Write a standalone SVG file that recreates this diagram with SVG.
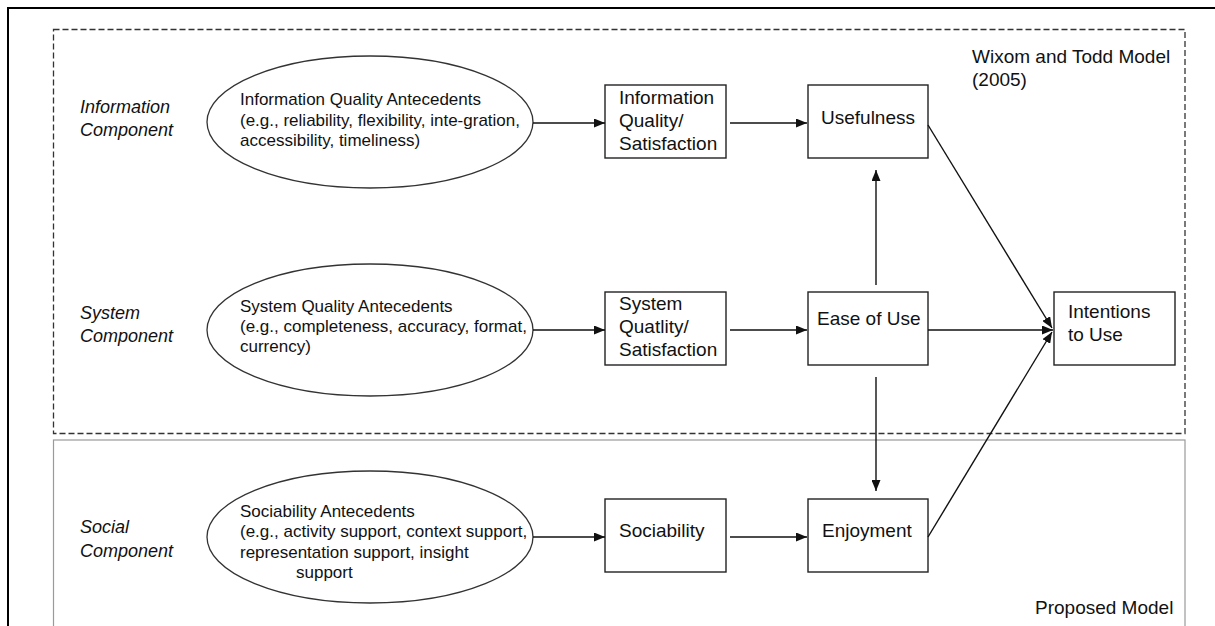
<svg xmlns="http://www.w3.org/2000/svg" width="1215" height="626" viewBox="0 0 1215 626">
<defs>
<style>
.t{font-family:"Liberation Sans",Arial,sans-serif;fill:#111;}
.lab{font-size:18px;font-style:italic;}
.box{font-size:19px;}
.ell{font-size:17px;}
.nb{fill:#fff;stroke:#222;stroke-width:1.4;}
.ne{fill:#fff;stroke:#333;stroke-width:1.3;}
.c{stroke:#111;stroke-width:1.4;fill:none;marker-end:url(#ah);}
</style>
<marker id="ah" markerUnits="userSpaceOnUse" markerWidth="11" markerHeight="9" refX="11" refY="4.5" orient="auto">
<path d="M0,0 L11,4.5 L0,9 z" fill="#111"/>
</marker>
</defs>
<rect width="1215" height="626" fill="#fff"/>
<g id="frame">
<path d="M8,626 L8,8 L1215,8" fill="none" stroke="#000" stroke-width="2"/>
</g>
<g id="wixom-region">
<rect x="53.5" y="29.5" width="1131.5" height="404" fill="none" stroke="#333" stroke-width="1.3" stroke-dasharray="6,3"/>
<text class="t box" x="972" y="63">Wixom and Todd Model</text>
<text class="t box" x="972" y="86">(2005)</text>
</g>
<g id="proposed-region">
<rect x="53.5" y="440" width="1131.5" height="200" fill="none" stroke="#9a9a9a" stroke-width="1.2"/>
<text class="t box" x="1035" y="614">Proposed Model</text>
</g>
<g id="labels">
<text class="t lab" x="80" y="113">Information</text>
<text class="t lab" x="80" y="136">Component</text>
<text class="t lab" x="80" y="319">System</text>
<text class="t lab" x="80" y="342">Component</text>
<text class="t lab" x="80" y="533">Social</text>
<text class="t lab" x="80" y="557">Component</text>
</g>
<g id="info-antecedents">
<ellipse class="ne" cx="370" cy="122" rx="163" ry="66"/>
<text class="t ell" x="240" y="105">Information Quality Antecedents</text>
<text class="t ell" x="240" y="125.5">(e.g., reliability, flexibility, inte-gration,</text>
<text class="t ell" x="240" y="146">accessibility, timeliness)</text>
</g>
<g id="system-antecedents">
<ellipse class="ne" cx="370" cy="330" rx="163" ry="66"/>
<text class="t ell" x="240" y="312">System Quality Antecedents</text>
<text class="t ell" x="240" y="332">(e.g., completeness, accuracy, format,</text>
<text class="t ell" x="240" y="352">currency)</text>
</g>
<g id="social-antecedents">
<ellipse class="ne" cx="370" cy="537" rx="163" ry="66"/>
<text class="t ell" x="240" y="517">Sociability Antecedents</text>
<text class="t ell" x="240" y="537">(e.g., activity support, context support,</text>
<text class="t ell" x="240" y="557.5">representation support, insight</text>
<text class="t ell" x="296" y="578">support</text>
</g>
<g id="info-quality">
<rect class="nb" x="605" y="85" width="121" height="73"/>
<text class="t box" x="619" y="104">Information</text>
<text class="t box" x="619" y="127">Quality/</text>
<text class="t box" x="619" y="150">Satisfaction</text>
</g>
<g id="usefulness">
<rect class="nb" x="808" y="85" width="120" height="73"/>
<text class="t box" x="821" y="124">Usefulness</text>
</g>
<g id="system-quality">
<rect class="nb" x="605" y="292" width="121" height="73"/>
<text class="t box" x="619" y="310">System</text>
<text class="t box" x="619" y="333">Quatlity/</text>
<text class="t box" x="619" y="356">Satisfaction</text>
</g>
<g id="ease-of-use">
<rect class="nb" x="808" y="292" width="120" height="73"/>
<text class="t box" x="817" y="325">Ease of Use</text>
</g>
<g id="intentions">
<rect class="nb" x="1054" y="292" width="121" height="73"/>
<text class="t box" x="1068" y="318">Intentions</text>
<text class="t box" x="1068" y="341">to Use</text>
</g>
<g id="sociability">
<rect class="nb" x="605" y="499" width="121" height="73"/>
<text class="t box" x="619" y="537">Sociability</text>
</g>
<g id="enjoyment">
<rect class="nb" x="808" y="499" width="120" height="73"/>
<text class="t box" x="822" y="537">Enjoyment</text>
</g>
<g id="connectors">
<line class="c" x1="533" y1="123" x2="605" y2="123"/>
<line class="c" x1="730" y1="123" x2="807" y2="123"/>
<line class="c" x1="533" y1="330" x2="605" y2="330"/>
<line class="c" x1="730" y1="330" x2="807" y2="330"/>
<line class="c" x1="533" y1="537" x2="605" y2="537"/>
<line class="c" x1="730" y1="537" x2="807" y2="537"/>
<line class="c" x1="928" y1="330" x2="1053" y2="330"/>
<line class="c" x1="876" y1="285" x2="876" y2="170"/>
<line class="c" x1="876" y1="377" x2="876" y2="491"/>
<line class="c" x1="928" y1="125" x2="1052" y2="328"/>
<line class="c" x1="928" y1="537" x2="1052" y2="332"/>
</g>
</svg>
